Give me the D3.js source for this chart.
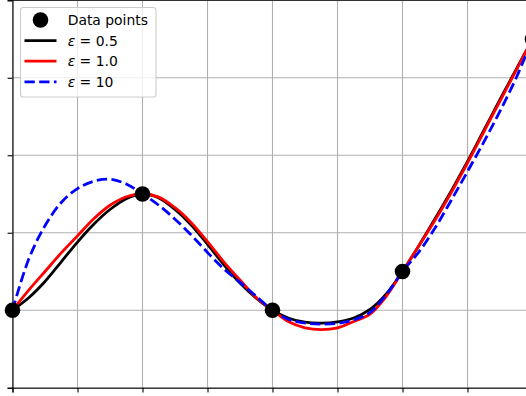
<!DOCTYPE html>
<html>
<head>
<meta charset="utf-8">
<script src="https://cdn.jsdelivr.net/npm/d3@7"></script>
<style>
body { margin: 0; background: white; }
svg { display: block; overflow: hidden; }
text { font-family: "DejaVu Sans", sans-serif; }
</style>
</head>
<body>
<svg id="chart"></svg>
<script>
// RBF interpolation curves

let width = 526, height = 396;

const pointsX = [0, 1, 2, 3, 4];
const pointsY = [0, 1.5, 0, 0.5, 3.5];

const xs = [0, 0.125, 0.25, 0.375, 0.5, 0.625, 0.75, 0.875,
    1, 1.125, 1.25, 1.375, 1.5, 1.625, 1.75, 1.875,
    2, 2.125, 2.25, 2.375, 2.5, 2.625, 2.75, 2.875,
    3, 3.125, 3.25, 3.375, 3.5, 3.625, 3.75, 3.875, 4];
const eps05 = [0, 0.16, 0.37, 0.625, 0.88, 1.11, 1.30, 1.44,
    1.5, 1.45, 1.30, 1.10, 0.85, 0.59, 0.35, 0.155,
    0, -0.103, -0.155, -0.167, -0.15, -0.10, 0.01, 0.21,
    0.5, 0.83, 1.18, 1.54, 1.92, 2.32, 2.72, 3.11, 3.5];
const eps1 = [0, 0.26, 0.50, 0.74, 0.96, 1.18, 1.355, 1.465,
    1.5, 1.46, 1.323, 1.13, 0.885, 0.625, 0.39, 0.165,
    0, -0.15, -0.227, -0.25, -0.228, -0.145, -0.05, 0.18,
    0.5, 0.83, 1.16, 1.52, 1.90, 2.30, 2.70, 3.10, 3.5];
const eps10 = [0, 0.66, 1.09, 1.39, 1.57, 1.665, 1.69, 1.63,
    1.5, 1.355, 1.175, 0.97, 0.745, 0.535, 0.36, 0.18,
    0, -0.12, -0.165, -0.18, -0.17, -0.125, -0.03, 0.2,
    0.5, 0.75, 1.06, 1.42, 1.79, 2.17, 2.57, 3.00, 3.5];

const xTicks = [0, 0.5, 1, 1.5, 2, 2.5, 3, 3.5, 4];
const yTicks = [-1, 0, 1, 2, 3, 4];

const series = [
    {label: "0.5", values: eps05, color: "black", dash: null},
    {label: "1.0", values: eps1, color: "red", dash: null},
    {label: "10", values: eps10, color: "blue", dash: "10.3,4.4"}
];

let svg = d3.select("#chart").attr("width", width).attr("height", height);

let x = d3.scaleLinear().domain([0, 4]).range([12.5, 532.5]);
let y = d3.scaleLinear().domain([-1, 4]).range([387.7, 0.3]);

// grid
svg.append("g")
.selectAll("line")
.data(xTicks)
.enter()
.append("line")
.attr("x1", d=>x(d)).attr("x2", d=>x(d))
.attr("y1", y(4)).attr("y2", y(-1))
.style("stroke", "#b0b0b0").style("stroke-width", 1.1);

svg.append("g")
.selectAll("line")
.data(yTicks)
.enter()
.append("line")
.attr("x1", x(0)).attr("x2", x(4))
.attr("y1", d=>y(d)).attr("y2", d=>y(d))
.style("stroke", "#b0b0b0").style("stroke-width", 1.1);

// axes, labels are outside the crop
let xAxis = d3.axisBottom(x).tickValues(xTicks).tickSize(4.9).tickFormat("");
let yAxis = d3.axisLeft(y).tickValues(yTicks).tickSize(4.9).tickFormat("");

svg.append("g").attr("transform", `translate(0,${y(-1)})`).call(xAxis)
.call(g=>g.selectAll("line,path").style("stroke", "black").style("stroke-width", 1.1));
svg.append("g").attr("transform", `translate(${x(0)},0)`).call(yAxis)
.call(g=>g.selectAll("line,path").style("stroke", "black").style("stroke-width", 1.1));

svg.append("line")
.attr("x1", x(0)).attr("x2", x(4))
.attr("y1", y(4)).attr("y2", y(4))
.style("stroke", "black").style("stroke-width", 1.1);

// curves
let line = d3.line()
.x((d, i)=>x(xs[i]))
.y(d=>y(d))
.curve(d3.curveCatmullRom.alpha(0.5));

svg.selectAll(".curve")
.data(series)
.enter()
.append("path")
.attr("class", "curve")
.attr("d", d=>line(d.values))
.style("fill", "none")
.style("stroke", d=>d.color)
.style("stroke-width", 2.78)
.style("stroke-dasharray", d=>d.dash);

svg.selectAll(".pt")
.data(pointsX)
.enter()
.append("circle")
.attr("class", "pt")
.attr("cx", d=>x(d))
.attr("cy", (d, i)=>y(pointsY[i]))
.attr("r", 7.8)
.style("fill", "black");

// legend
let gLegend = svg.append("g");
let rowY = i => 20 + i*20.6;

gLegend.append("rect")
.attr("x", 20.5).attr("y", 7.5)
.attr("width", 135.5).attr("height", 89.5)
.attr("rx", 2.8)
.style("fill", "white").style("fill-opacity", 0.8)
.style("stroke", "#cccccc").style("stroke-width", 1.1);

gLegend.append("circle")
.attr("cx", 40.5).attr("cy", rowY(0)).attr("r", 7.8)
.style("fill", "black");

gLegend.append("text")
.attr("x", 67.7).attr("y", rowY(0))
.attr("dominant-baseline", "central")
.style("font-size", "13.9px")
.text("Data points");

gLegend.selectAll(".handle")
.data(series)
.enter()
.append("line")
.attr("class", "handle")
.attr("x1", 24.5).attr("x2", 56.5)
.attr("y1", (d, i)=>rowY(i+1)).attr("y2", (d, i)=>rowY(i+1))
.style("stroke", d=>d.color)
.style("stroke-width", 2.78)
.style("stroke-dasharray", d=>d.dash);

let labels = gLegend.selectAll(".lab")
.data(series)
.enter()
.append("text")
.attr("class", "lab")
.attr("x", 67.7)
.attr("y", (d, i)=>rowY(i+1))
.attr("dominant-baseline", "central")
.style("font-size", "13.9px");

labels.append("tspan").style("font-style", "italic").text("ε");
labels.append("tspan").text(d=>" = " + d.label);
</script>
</body>
</html>
